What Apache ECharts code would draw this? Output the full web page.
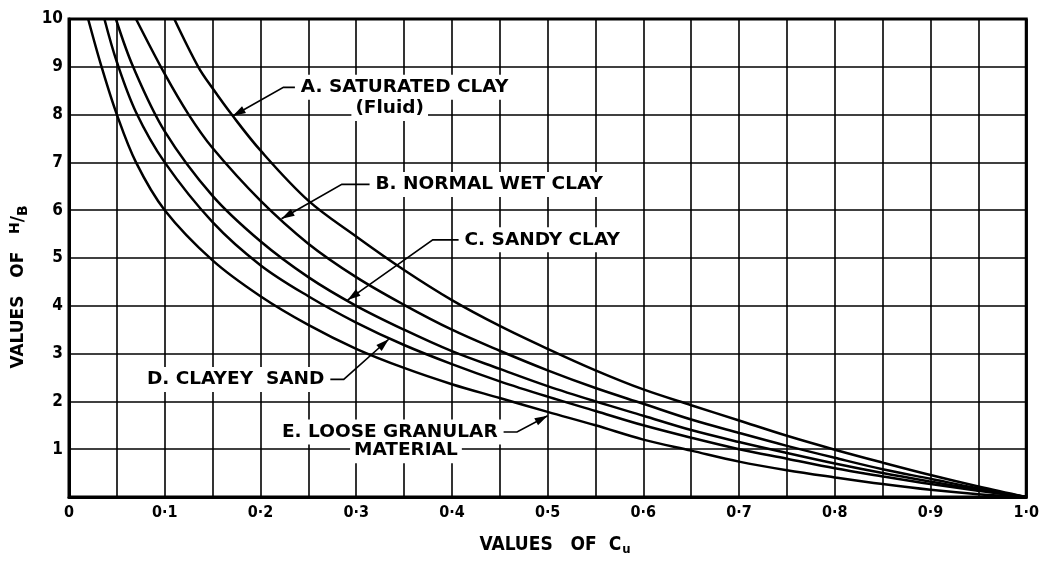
<!DOCTYPE html>
<html><head><meta charset="utf-8">
<script src="https://cdn.jsdelivr.net/npm/echarts@6/dist/echarts.min.js"></script>
<style>html,body{margin:0;padding:0;background:#fff}#chart{width:1042px;height:564px}</style>
</head><body><div id="chart"></div>
<script>
// ---- tick labels ----
const xTickLabels = ['0', '0·1', '0·2', '0·3', '0·4', '0·5', '0·6', '0·7', '0·8', '0·9', '1·0'];
const yTickLabels = ['', '1', '2', '3', '4', '5', '6', '7', '8', '9', '10'];

// ---- curves (Cu on x, H/B on y) ----
const curveNames = ['A. SATURATED CLAY (Fluid)', 'B. NORMAL WET CLAY', 'C. SANDY CLAY', 'D. CLAYEY SAND', 'E. LOOSE GRANULAR MATERIAL'];

const cuA = [0.11, 0.135, 0.15, 0.17, 0.2, 0.25, 0.3, 0.35, 0.4, 0.45, 0.5, 0.55, 0.6, 0.65, 0.7, 0.75, 0.8, 0.85, 0.9, 0.95, 1.0];
const hA  = [10, 9, 8.55, 8.0, 7.25, 6.2, 5.45, 4.75, 4.12, 3.58, 3.1, 2.65, 2.25, 1.92, 1.6, 1.28, 0.99, 0.72, 0.46, 0.22, 0];

const cuB = [0.07, 0.1, 0.125, 0.15, 0.2, 0.25, 0.3, 0.35, 0.4, 0.45, 0.5, 0.55, 0.6, 0.65, 0.7, 0.75, 0.8, 0.85, 0.9, 0.95, 1.0];
const hB  = [10, 8.85, 8.0, 7.3, 6.2, 5.3, 4.6, 4.02, 3.5, 3.06, 2.65, 2.28, 1.95, 1.62, 1.34, 1.07, 0.82, 0.58, 0.38, 0.18, 0];

const cuC = [0.049, 0.067, 0.1, 0.15, 0.2, 0.25, 0.3, 0.35, 0.4, 0.45, 0.5, 0.55, 0.6, 0.65, 0.7, 0.75, 0.8, 0.85, 0.9, 0.95, 1.0];
const hC  = [10, 9, 7.65, 6.3, 5.35, 4.6, 4.0, 3.5, 3.05, 2.68, 2.32, 2.0, 1.7, 1.4, 1.15, 0.92, 0.7, 0.5, 0.32, 0.15, 0];

const cuD = [0.037, 0.05, 0.07, 0.1, 0.15, 0.2, 0.25, 0.3, 0.35, 0.4, 0.45, 0.5, 0.55, 0.6, 0.65, 0.7, 0.75, 0.8, 0.85, 0.9, 0.95, 1.0];
const hD  = [10, 9.1, 8.05, 7.0, 5.75, 4.85, 4.2, 3.65, 3.18, 2.78, 2.42, 2.1, 1.8, 1.5, 1.24, 1.0, 0.8, 0.6, 0.43, 0.27, 0.13, 0];

const cuE = [0.02, 0.034, 0.05, 0.07, 0.1, 0.15, 0.2, 0.25, 0.3, 0.35, 0.4, 0.45, 0.5, 0.55, 0.6, 0.65, 0.7, 0.75, 0.8, 0.85, 0.9, 0.95, 1.0];
const hE  = [10, 9, 8, 7, 6, 4.95, 4.2, 3.6, 3.1, 2.7, 2.36, 2.07, 1.78, 1.5, 1.2, 0.97, 0.74, 0.56, 0.41, 0.27, 0.15, 0.06, 0];

// ---- annotation texts (anchored in data coordinates) ----
const annotTexts  = ['A. SATURATED CLAY', '(Fluid)', 'B. NORMAL WET CLAY', 'C. SANDY CLAY', 'D. CLAYEY  SAND', 'E. LOOSE GRANULAR', 'MATERIAL'];
const annotAt     = [[0.238, 8.57], [0.295, 8.13], [0.316, 6.54], [0.409, 5.38], [0.271, 2.46], [0.452, 1.36], [0.352, 0.97]];
const annotAlign  = ['left', 'left', 'left', 'left', 'right', 'right', 'center'];
// leader lines: from text end to arrow tip on the curve
const leaders = [
  [[0.236, 8.57], [0.224, 8.57], [0.171, 7.97]],
  [[0.314, 6.54], [0.285, 6.54], [0.222, 5.82]],
  [[0.407, 5.38], [0.38, 5.38], [0.291, 4.12]],
  [[0.273, 2.46], [0.287, 2.46], [0.334, 3.3]],
  [[0.454, 1.36], [0.468, 1.36], [0.5, 1.7]]
];

const chart = echarts.init(document.getElementById('chart'), null, {renderer: 'canvas'});
const tickFont = 'DejaVu Sans Condensed';

function pairs(xs, ys) { return xs.map((x, i) => [x, ys[i]]); }
const curveData = [pairs(cuA, hA), pairs(cuB, hB), pairs(cuC, hC), pairs(cuD, hD), pairs(cuE, hE)];

chart.setOption({
  backgroundColor: '#fff',
  animation: false,
  grid: {left: 69, right: 14, top: 19, bottom: 67, show: true, borderColor: '#000', borderWidth: 3, backgroundColor: 'transparent'},
  xAxis: {
    type: 'value', min: 0, max: 1, interval: 0.05,
    axisLine: {show: true, lineStyle: {color: '#000', width: 3}},
    axisTick: {show: false},
    splitLine: {show: true, lineStyle: {color: '#000', width: 1.6}},
    axisLabel: {
      margin: 8, color: '#000', fontFamily: tickFont, fontWeight: 'bold', fontSize: 16,
      formatter: v => { const i = Math.round(v * 20); return i % 2 === 0 ? xTickLabels[i / 2] : ''; }
    }
  },
  yAxis: {
    type: 'value', min: 0, max: 10, interval: 1,
    axisLine: {show: true, lineStyle: {color: '#000', width: 3}},
    axisTick: {show: false},
    splitLine: {show: true, lineStyle: {color: '#000', width: 1.6}},
    axisLabel: {
      margin: 6, color: '#000', fontFamily: tickFont, fontWeight: 'bold', fontSize: 17,
      formatter: v => yTickLabels[Math.round(v)]
    }
  },
  series: curveData.map((d, i) => ({
    name: curveNames[i], type: 'line', data: d, showSymbol: false, smooth: 0.35,
    clip: true, lineStyle: {color: '#000', width: 2.5}, z: 3
  }))
});

function px(p) { return chart.convertToPixel({gridIndex: 0}, p); }

const graphics = [];
annotTexts.forEach((t, i) => {
  const p = px(annotAt[i]);
  graphics.push({
    type: 'text', z: 5,
    style: {
      text: t, x: p[0], y: p[1], fill: '#000', align: annotAlign[i], verticalAlign: 'middle',
      font: 'bold 18.5px "DejaVu Sans"', backgroundColor: '#fff', padding: [3, 4]
    }
  });
});
leaders.forEach(L => {
  const pts = L.map(px);
  graphics.push({type: 'polyline', z: 6, shape: {points: pts}, style: {stroke: '#000', lineWidth: 1.6, fill: null}});
  const tip = pts[pts.length - 1], prev = pts[pts.length - 2];
  const dx = tip[0] - prev[0], dy = tip[1] - prev[1];
  const len = Math.hypot(dx, dy), ux = dx / len, uy = dy / len;
  const back = 13, half = 4;
  const bx = tip[0] - ux * back, by = tip[1] - uy * back;
  graphics.push({
    type: 'polygon', z: 6,
    shape: {points: [tip, [bx - uy * half, by + ux * half], [bx + uy * half, by - ux * half]]},
    style: {fill: '#000'}
  });
});
graphics.push({
  type: 'text', z: 5,
  style: {
    text: 'VALUES   OF  C{s|u}', x: 555, y: 545, align: 'center', verticalAlign: 'middle',
    font: 'bold 19px "DejaVu Sans Condensed"', fill: '#000',
    rich: {s: {font: 'bold 13px "DejaVu Sans Condensed"', fill: '#000', padding: [10, 0, 0, 1]}}
  }
});
graphics.push({
  type: 'text', z: 5, x: 19, y: 287, rotation: Math.PI / 2,
  style: {
    text: 'VALUES   OF   {h|H}/{b|B}', x: 0, y: 0, align: 'center', verticalAlign: 'middle',
    font: 'bold 17px "DejaVu Sans"', fill: '#000',
    rich: {
      h: {font: 'bold 14px "DejaVu Sans"', fill: '#000', padding: [0, 0, 8, 0]},
      b: {font: 'bold 14px "DejaVu Sans"', fill: '#000', padding: [8, 0, 0, 0]}
    }
  }
});
chart.setOption({graphic: graphics});
</script>
</body></html>
